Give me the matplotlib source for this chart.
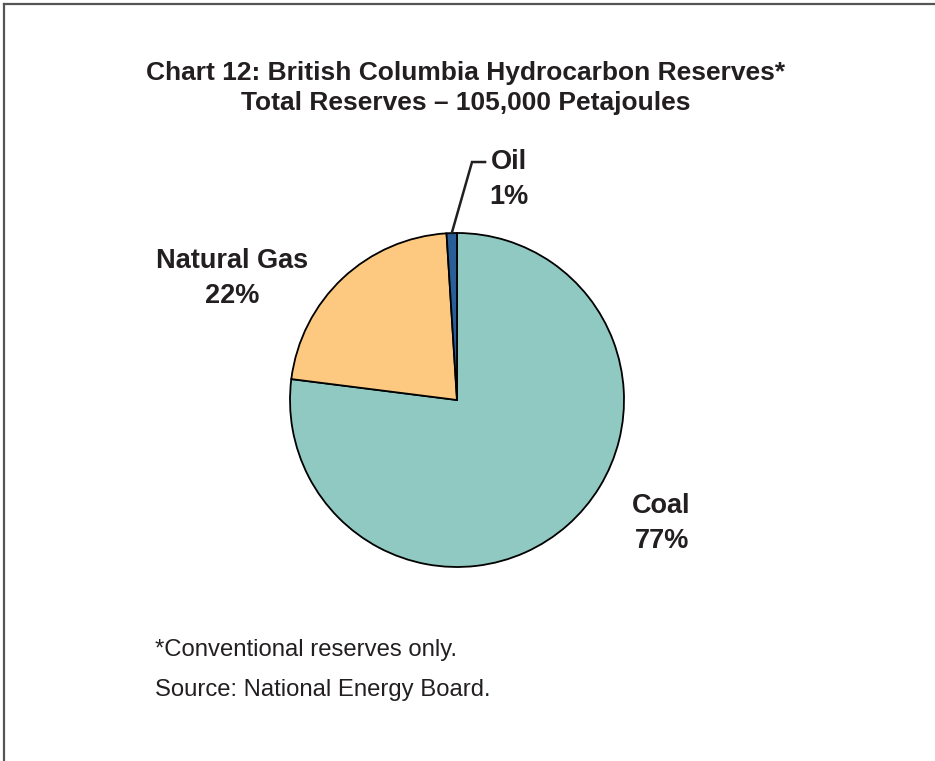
import matplotlib
matplotlib.use("Agg")
import matplotlib.pyplot as plt
import numpy as np

# Reserve shares by fuel (percent of total)
categories = ["Coal", "Natural Gas", "Oil"]
shares = [77, 22, 1]
colors = ["#8FC9C2", "#FDC980", "#2A5E98"]

title_lines = ["Chart 12: British Columbia Hydrocarbon Reserves*",
               "Total Reserves \u2013 105,000 Petajoules"]
notes = ["*Conventional reserves only.", "Source: National Energy Board."]

plt.rcParams["font.family"] = ["Liberation Sans", "DejaVu Sans"]

W, H = 935, 761
fig = plt.figure(figsize=(W / 100, H / 100), dpi=100)

# Frame lines (top and left)
fig.add_artist(plt.Line2D([3.5 / W, 1], [1 - 3.5 / H, 1 - 3.5 / H],
                          transform=fig.transFigure, color="#555555", lw=1.6))
fig.add_artist(plt.Line2D([3.5 / W, 3.5 / W], [0, 1 - 3.5 / H],
                          transform=fig.transFigure, color="#555555", lw=1.6))

# Pie axes
cx, cy, r = 457, 400, 167
ax = fig.add_axes([(cx - r) / W, (H - cy - r) / H, 2 * r / W, 2 * r / H])
wedges, _ = ax.pie(shares, colors=colors, startangle=90, counterclock=False,
                   radius=1.0,
                   wedgeprops=dict(edgecolor="black", linewidth=1.3))
ax.set_xlim(-1, 1)
ax.set_ylim(-1, 1)
ax.set_aspect("equal")
ax.axis("off")

label_font = dict(fontsize=19.5, fontweight="bold", color="#231F20",
                  ha="center", va="center", linespacing=1.45)

def pct(v):
    return f"{v}%"

ax.text(1.225, -0.737, f"{categories[0]}\n{pct(shares[0])}", **label_font)
ax.text(-1.347, 0.73, f"{categories[1]}\n{pct(shares[1])}", **label_font)
ax.text(0.31, 1.319, f"{categories[2]}\n{pct(shares[2])}", **label_font)

# Leader line for the small slice
w = wedges[2]
mid = np.deg2rad((w.theta1 + w.theta2) / 2)
ax.plot([np.cos(mid), 0.09, 0.168], [np.sin(mid), 1.425, 1.425],
        color="#231F20", lw=1.8, clip_on=False, solid_joinstyle="miter")

# Title
fig.text(466 / W, 1 - 73 / H, title_lines[0], ha="center", va="center",
         fontsize=19, fontweight="bold", color="#231F20")
fig.text(466 / W, 1 - 103 / H, title_lines[1], ha="center", va="center",
         fontsize=19, fontweight="bold", color="#231F20")

# Notes
fig.text(155 / W, 1 - 650 / H, notes[0], ha="left", va="center",
         fontsize=17.2, color="#231F20")
fig.text(155 / W, 1 - 690 / H, notes[1], ha="left", va="center",
         fontsize=17.2, color="#231F20")

fig.savefig("out.png", dpi=100, facecolor="white")
